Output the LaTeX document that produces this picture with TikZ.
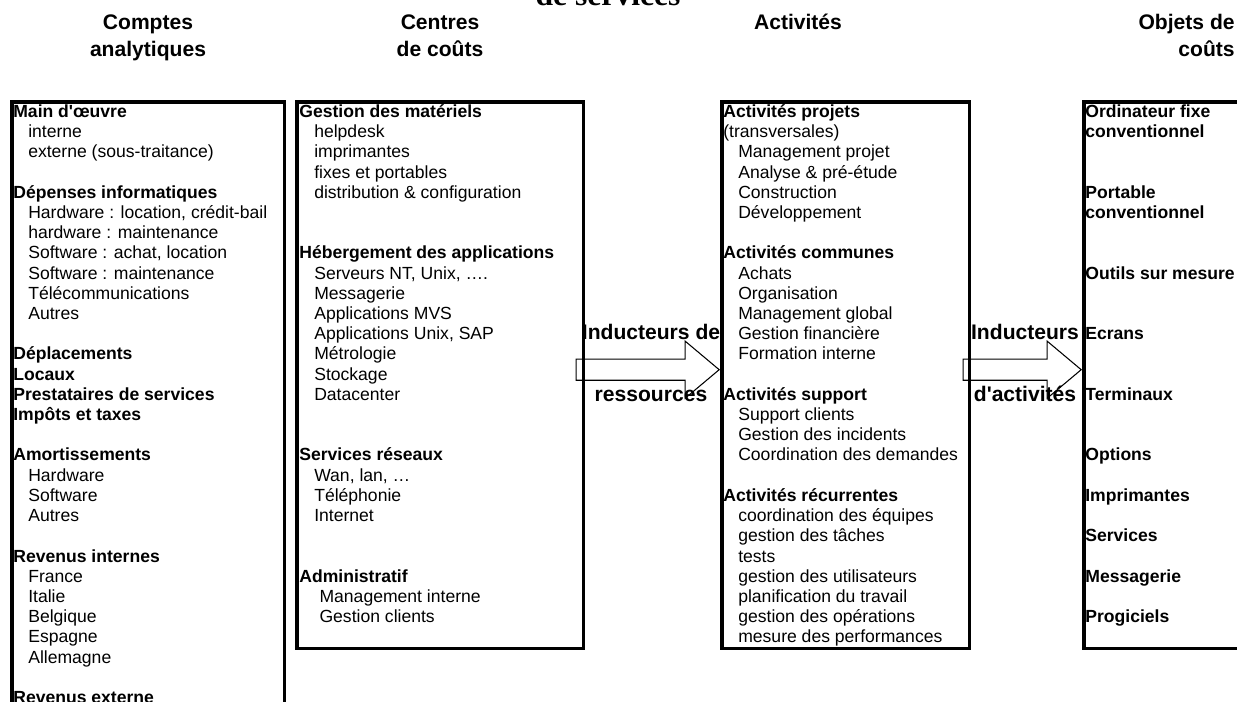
\documentclass[tikz,border=0pt]{standalone}
\usepackage{fontspec}
\setmainfont{Liberation Sans}
\newfontfamily\titrefont{Liberation Serif}
\usetikzlibrary{shapes.arrows, backgrounds, positioning}

\newcommand{\retrait}{\hspace*{8.5pt}}
\newcommand{\vide}{\\[11.5pt]}
\newcommand{\videx}{\\[23pt]}

\begin{document}
\begin{tikzpicture}[
			x=0.02cm, y=-0.02cm,
			boite/.style={
				draw,
				line width=2pt,
				inner sep=0pt,
				anchor=north west
			},
			texte/.style={
				inner sep=0pt,
				anchor=north west,
				align=left,
				font=\fontsize{10pt}{11.5pt}\selectfont
			},
			titre/.style={
				inner sep=0pt,
				anchor=north,
				align=center,
				font=\fontsize{12pt}{15.4pt}\selectfont\bfseries
			},
			inducteur/.style={
				inner sep=0pt,
				anchor=base,
				font=\fontsize{12pt}{14pt}\selectfont\bfseries
			},
			fleche/.style={
				shape=single arrow,
				draw,
				fill=white,
				line width=0.6pt,
				inner xsep=0pt,
				inner ysep=0.2cm,
				single arrow head extend=0.36cm,
				single arrow tip angle=80,
				anchor=tip
			}
			]
			\useasboundingbox (0,0) rectangle (1237,702);
			
			% Titres
			\node[font=\titrefont\fontsize{18pt}{20pt}\selectfont\bfseries, inner sep=0pt, anchor=base] (soustitre) at (608,5.5) {de services};
			\node[titre] (t-cpt) at (148,10) {\strut Comptes\\analytiques};
			\node[titre] (t-cc) at (440,10) {\strut Centres\\de coûts};
			\node[titre] (t-act) at (798,10) {\strut Activités};
			\node[titre, anchor=north east, align=right] (t-obj) at (1235,10) {\strut Objets de\\coûts};
			
			% Cadres
			\node[boite, minimum width=5.46cm, minimum height=13.4cm] (cpt) at (10,100) {};
			\node[boite, minimum width=5.74cm, minimum height=10.94cm] (cc) at (295,100) {};
			\node[boite, minimum width=4.96cm, minimum height=10.94cm] (act) at (720,100) {};
			\node[boite, minimum width=3.4cm, minimum height=10.94cm] (obj) at (1082,100) {};
			
			% Contenu des cadres
			\node[texte] (cpt-t) at (13,103) {\strut\textbf{Main d\textquotesingle œuvre}\\
				\retrait interne\\
				\retrait externe (sous-traitance)\vide
				\textbf{Dépenses informatiques}\\
				\retrait Hardware : location, crédit-bail\\
				\retrait hardware : maintenance\\
				\retrait Software : achat, location\\
				\retrait Software : maintenance\\
				\retrait Télécommunications\\
				\retrait Autres\vide
				\textbf{Déplacements}\\
				\textbf{Locaux}\\
				\textbf{Prestataires de services}\\
				\textbf{Impôts et taxes}\vide
				\textbf{Amortissements}\\
				\retrait Hardware\\
				\retrait Software\\
				\retrait Autres\vide
				\textbf{Revenus internes}\\
				\retrait France\\
				\retrait Italie\\
				\retrait Belgique\\
				\retrait Espagne\\
				\retrait Allemagne\vide
				\textbf{Revenus externe}};
			
			\node[texte] (cc-t) at (299,103) {\strut\textbf{Gestion des matériels}\\
				\retrait helpdesk\\
				\retrait imprimantes\\
				\retrait fixes et portables\\
				\retrait distribution \& configuration\videx
				\textbf{Hébergement des applications}\\
				\retrait Serveurs NT, Unix, ….\\
				\retrait Messagerie\\
				\retrait Applications MVS\\
				\retrait Applications Unix, SAP\\
				\retrait Métrologie\\
				\retrait Stockage\\
				\retrait Datacenter\videx
				\textbf{Services réseaux}\\
				\retrait Wan, lan, …\\
				\retrait Téléphonie\\
				\retrait Internet\videx
				\textbf{Administratif}\\
				\retrait\hspace*{3pt}Management interne\\
				\retrait\hspace*{3pt}Gestion clients};
			
			\node[texte] (act-t) at (723,103) {\strut\textbf{Activités projets}\\
				(transversales)\\
				\retrait Management projet\\
				\retrait Analyse \& pré-étude\\
				\retrait Construction\\
				\retrait Développement\vide
				\textbf{Activités communes}\\
				\retrait Achats\\
				\retrait Organisation\\
				\retrait Management global\\
				\retrait Gestion financière\\
				\retrait Formation interne\vide
				\textbf{Activités support}\\
				\retrait Support clients\\
				\retrait Gestion des incidents\\
				\retrait Coordination des demandes\vide
				\textbf{Activités récurrentes}\\
				\retrait coordination des équipes\\
				\retrait gestion des tâches\\
				\retrait tests\\
				\retrait gestion des utilisateurs\\
				\retrait planification du travail\\
				\retrait gestion des opérations\\
				\retrait mesure des performances};
			
			\node[texte, font=\fontsize{10pt}{11.5pt}\selectfont\bfseries] (obj-t) at (1085,103) {\strut Ordinateur fixe\\
				conventionnel\videx
				Portable\\
				conventionnel\videx
				Outils sur mesure\videx
				Ecrans\videx
				Terminaux\videx
				Options\vide
				Imprimantes\vide
				Services\vide
				Messagerie\vide
				Progiciels};
			
			% Inducteurs
			\begin{scope}[on background layer]
				\node[fleche, minimum height=2.86cm] (f1) at ([yshift=0.11cm]act.west) {};
				\node[fleche, minimum height=2.36cm] (f2) at ([yshift=0.11cm]obj.west) {};
			\end{scope}
			\node[inducteur] (i1) at (651,339) {Inducteurs de};
			\node[inducteur] (r1) at (651,401) {ressources};
			\node[inducteur] (i2) at (1025,339) {Inducteurs};
			\node[inducteur] (r2) at (1025,401) {d\textquotesingle activités};
		\end{tikzpicture}
\end{document}
